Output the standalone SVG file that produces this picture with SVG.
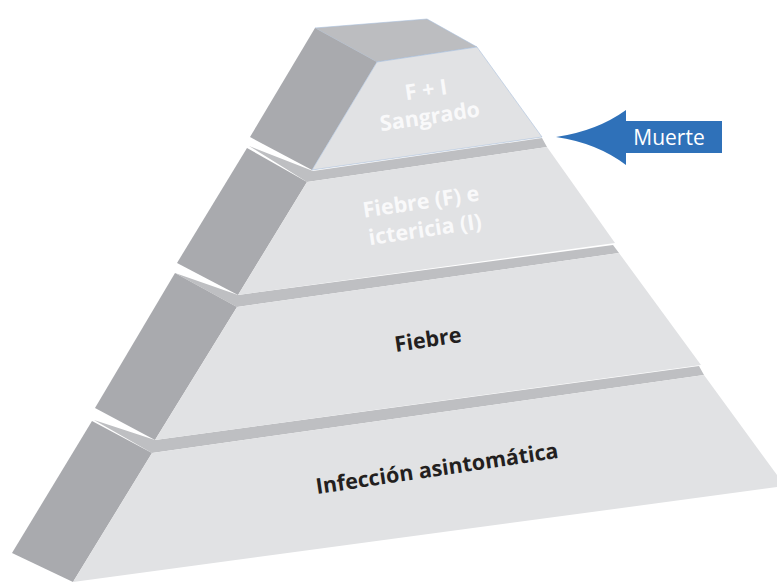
<svg xmlns="http://www.w3.org/2000/svg" width="777" height="582" viewBox="0 0 777 582">
<style>
.front{fill:#e1e2e4}
.left{fill:#a9aaae}
.ledge{fill:#bebfc2}
.top{fill:#bcbdc0}
.edge{stroke:#a9c0dc;stroke-width:0.6}
.lbl{font-family:"Open Sans","Noto Sans",sans-serif;font-weight:700;font-size:21.5px;text-anchor:middle}
.light{fill:#f9f9fa}
.dark{fill:#231f20}
</style>
<rect width="777" height="582" fill="#ffffff"/>
<g id="tier4">
<polygon class="ledge" points="94,420 155,440 699,366 704,375 152,453"/>
<polygon class="left" points="92,421 152,453 73,582 12,553"/>
<polygon class="front" points="152,453 704,375 785,486 73,582"/>
<g transform="translate(437,469) rotate(-8.5)"><text class="lbl dark" x="0" y="7">Infección asintomática</text></g>
</g>
<g id="tier3">
<polygon class="ledge" points="175,273 238,295 613,245 619,253 237,307"/>
<polygon class="left" points="175,273 237,307 155,440 95,408"/>
<polygon class="front" points="237,307 619,253 701,365 155,440"/>
<g transform="translate(428,340) rotate(-8.5)"><text class="lbl dark" x="0" y="7">Fiebre</text></g>
</g>
<g id="tier2">
<polygon class="ledge" points="249,146 313,171 542,138 547,147 307,182"/>
<polygon class="left" points="247,148 307,182 238,295 177,263"/>
<polygon class="front" points="307,182 547,147 615,243 238,295"/>
<g transform="translate(423,216) rotate(-8.5)"><text class="lbl light" x="0" y="-7">Fiebre (F) e</text><text class="lbl light" x="0" y="21">ictericia (I)</text></g>
</g>
<g id="tier1">
<polygon class="top edge" points="315,28 427,19 477,47 377,62"/>
<polygon class="left" points="315,28 377,62 312,170 250,137"/>
<polygon class="front edge" points="377,62 477,47 542,137 312,170"/>
<g transform="translate(428,104) rotate(-8.5)"><text class="lbl light" x="0" y="-7">F + I</text><text class="lbl light" x="0" y="20">Sangrado</text></g>
</g>
<g id="connectors">
<g id="muerte">
<path d="M556,137 Q597,131 626,110 L626,121 L722,121 L722,153 L626,153 L626,165 Q597,143 556,137 Z" fill="#2f71b9"/>
<text x="669" y="145" font-family="'Open Sans','Noto Sans',sans-serif" font-size="21" fill="#ffffff" text-anchor="middle">Muerte</text>
</g>
</g>
</svg>
